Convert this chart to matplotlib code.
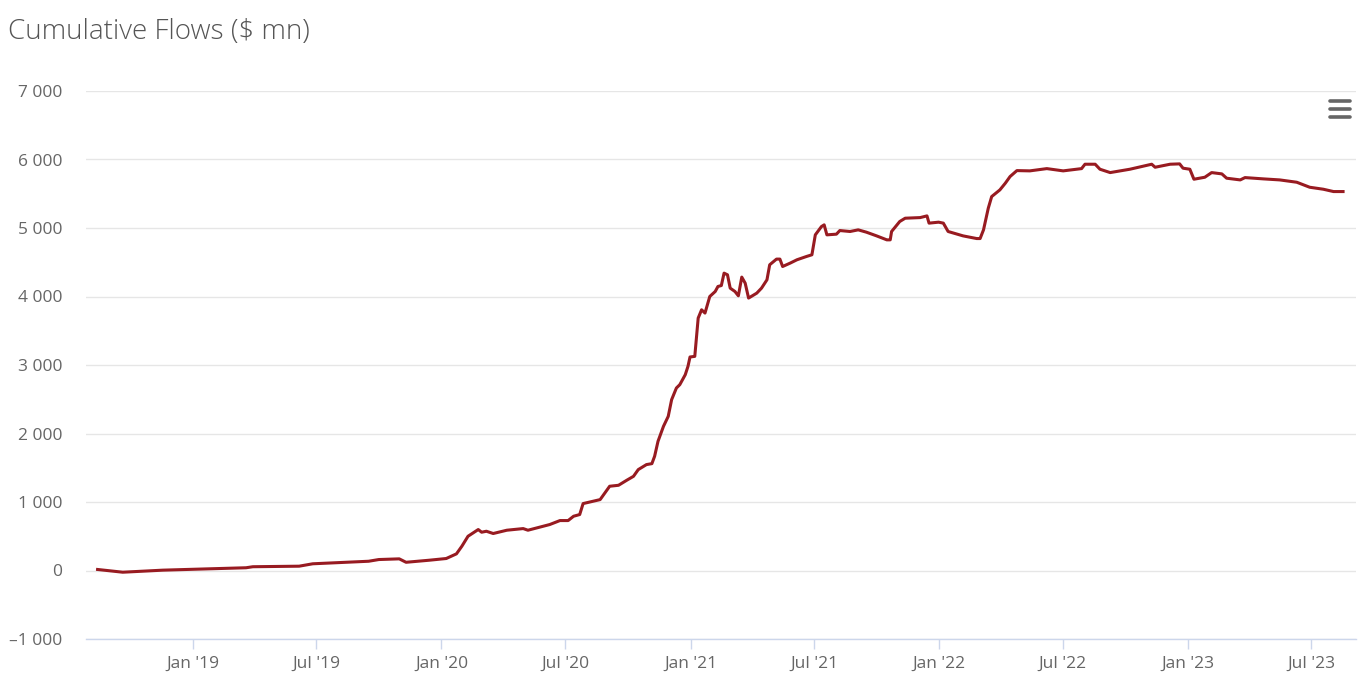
import matplotlib
matplotlib.use("Agg")
import matplotlib.pyplot as plt
import matplotlib.dates as mdates
from matplotlib.lines import Line2D
from matplotlib.ticker import FuncFormatter
import pandas as pd

plt.rcParams['font.family'] = ['Open Sans', 'DejaVu Sans']

# values (approximate)
dates = [
    "2018-08-14", "2018-09-20", "2018-11-18", "2019-03-20", "2019-03-30", "2019-06-06",
    "2019-06-26", "2019-09-16", "2019-10-01", "2019-10-31", "2019-11-10", "2019-12-14",
    "2020-01-08", "2020-01-23", "2020-01-31", "2020-02-09", "2020-02-24", "2020-02-29",
    "2020-03-07", "2020-03-17", "2020-04-06", "2020-04-30", "2020-05-07", "2020-05-20",
    "2020-06-08", "2020-06-23", "2020-07-05", "2020-07-13", "2020-07-22", "2020-07-27",
    "2020-08-21", "2020-08-28", "2020-09-04", "2020-09-17", "2020-09-29", "2020-10-09",
    "2020-10-16", "2020-10-28", "2020-11-05", "2020-11-09", "2020-11-14", "2020-11-22",
    "2020-11-29", "2020-12-04", "2020-12-11", "2020-12-16", "2020-12-24", "2020-12-28",
    "2020-12-31", "2021-01-07", "2021-01-12", "2021-01-17", "2021-01-22", "2021-01-29",
    "2021-02-06", "2021-02-10", "2021-02-15", "2021-02-19", "2021-02-24", "2021-02-28",
    "2021-03-07", "2021-03-12", "2021-03-17", "2021-03-22", "2021-03-27", "2021-04-08",
    "2021-04-15", "2021-04-23", "2021-04-27", "2021-05-07", "2021-05-12", "2021-05-16",
    "2021-05-27", "2021-06-06", "2021-06-20", "2021-06-28", "2021-07-03", "2021-07-12",
    "2021-07-16", "2021-07-20", "2021-08-03", "2021-08-08", "2021-08-23", "2021-09-04",
    "2021-09-16", "2021-10-01", "2021-10-16", "2021-10-21", "2021-10-23", "2021-11-04",
    "2021-11-12", "2021-12-04", "2021-12-14", "2021-12-17", "2021-12-31", "2022-01-07",
    "2022-01-14", "2022-02-05", "2022-02-25", "2022-03-02", "2022-03-07", "2022-03-14",
    "2022-03-19", "2022-03-31", "2022-04-08", "2022-04-15", "2022-04-25", "2022-05-14",
    "2022-06-08", "2022-07-02", "2022-07-29", "2022-08-03", "2022-08-18", "2022-08-25",
    "2022-09-09", "2022-10-08", "2022-11-09", "2022-11-14", "2022-12-06", "2022-12-20",
    "2022-12-25", "2023-01-04", "2023-01-10", "2023-01-26", "2023-02-05", "2023-02-20",
    "2023-02-27", "2023-03-19", "2023-03-26", "2023-04-22", "2023-05-16", "2023-06-10",
    "2023-06-29", "2023-07-19", "2023-08-03", "2023-08-17",
]
flows = [
    15, -25, 5, 40, 55, 63,
    98, 135, 160, 170, 120, 150,
    175, 243, 355, 500, 598, 559,
    573, 540, 588, 612, 588, 622,
    671, 729, 729, 792, 817, 977,
    1035, 1133, 1230, 1244, 1317, 1375,
    1473, 1546, 1560, 1667, 1886, 2104,
    2250, 2494, 2664, 2713, 2858, 2980,
    3117, 3126, 3685, 3806, 3758, 4000,
    4073, 4146, 4160, 4341, 4317, 4122,
    4073, 4010, 4283, 4195, 3977, 4049,
    4122, 4244, 4463, 4546, 4546, 4438,
    4487, 4536, 4584, 4609, 4900, 5021,
    5046, 4900, 4910, 4963, 4949, 4973,
    4939, 4885, 4827, 4827, 4949, 5095,
    5143, 5152, 5177, 5071, 5085, 5071,
    4949, 4885, 4846, 4846, 4973, 5289,
    5459, 5556, 5654, 5751, 5838, 5834,
    5867, 5834, 5867, 5931, 5931, 5858,
    5809, 5858, 5931, 5887, 5931, 5936,
    5873, 5858, 5712, 5741, 5809, 5790,
    5727, 5702, 5736, 5717, 5702, 5668,
    5595, 5566, 5532, 5532,
]
x_start, x_end = "2018-07-28", "2023-09-05"
y_ticks = [-1000, 0, 1000, 2000, 3000, 4000, 5000, 6000, 7000]

W, H = 1365, 678
fig = plt.figure(figsize=(W / 100, H / 100), dpi=100)
ax = fig.add_axes([86 / W, 1 - 639 / H, (1356 - 86) / W, (639 - 91) / H])

ax.plot(pd.to_datetime(dates), flows, color='#981b21', lw=2.2,
        solid_joinstyle='round', zorder=3)

ax.set_xlim(pd.Timestamp(x_start), pd.Timestamp(x_end))
ax.set_ylim(-1000, 7000)
ax.set_yticks(y_ticks)
ax.yaxis.set_major_formatter(FuncFormatter(
    lambda v, p: f"{v:,.0f}".replace(",", " ").replace("-", "\u2013")))

ax.xaxis.set_major_locator(mdates.MonthLocator(bymonth=[1, 7]))
ax.xaxis.set_major_formatter(mdates.DateFormatter("%b '%y"))

for s in ['top', 'right', 'left']:
    ax.spines[s].set_visible(False)
ax.spines['bottom'].set_color('#ccd6eb')
ax.spines['bottom'].set_linewidth(1.0)

ax.grid(axis='y', color='#e6e6e6', lw=1.0)
ax.set_axisbelow(True)
ax.tick_params(axis='y', length=0, pad=17, labelsize=12.5, labelcolor='#666666')
ax.tick_params(axis='x', length=7, width=1, color='#ccd6eb', pad=5,
               labelsize=12.5, labelcolor='#666666')

fig.text(8 / W, 1 - 32 / H, "Cumulative Flows ($ mn)", fontsize=20,
         fontweight='light', color='#555555', ha='left', va='center')

# menu icon top right
for yy in [101, 109, 117]:
    fig.add_artist(Line2D([1330 / W, 1350 / W], [1 - yy / H, 1 - yy / H],
                          color='#666666', lw=2.6, solid_capstyle='round'))

fig.savefig("out.png", dpi=100)
